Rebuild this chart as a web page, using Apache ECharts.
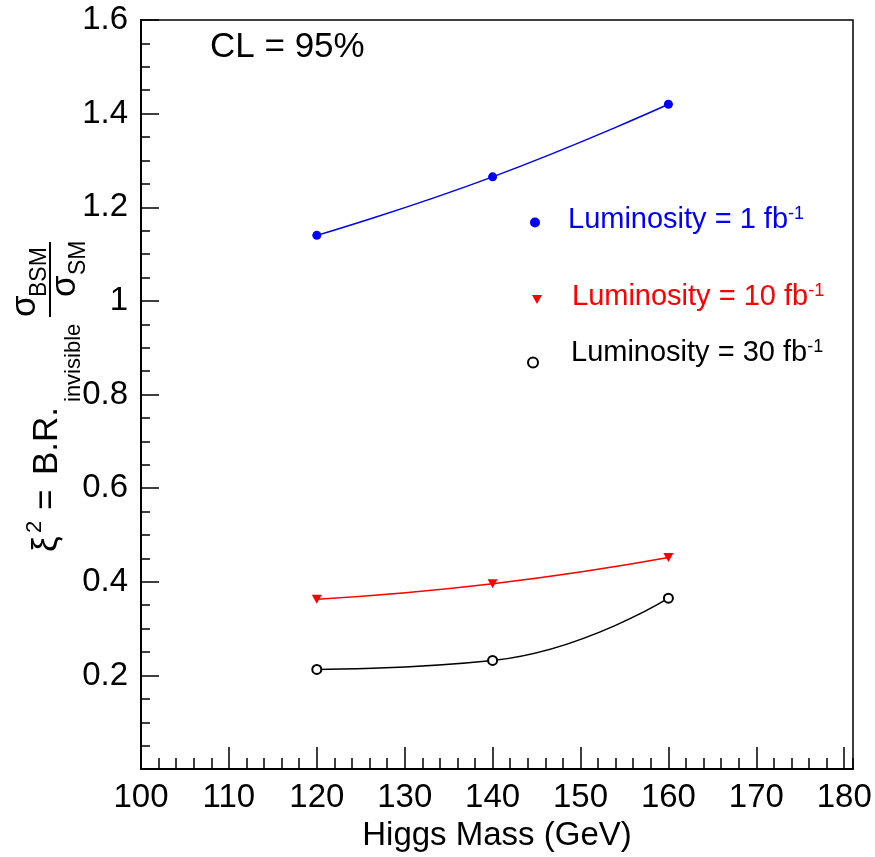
<!DOCTYPE html>
<html>
<head>
<meta charset="utf-8">
<title>Higgs invisible limit</title>
<script src="https://cdn.jsdelivr.net/npm/echarts@6.0.0/dist/echarts.min.js"></script>
<style>
  html, body { margin: 0; padding: 0; background: #fff; }
  #chart { width: 875px; height: 857px; }
</style>
</head>
<body>
<div id="chart"></div>
<script>
// values
const higgsMass = [120, 140, 160];
const lumi1 = [1.14, 1.265, 1.42];
const lumi10 = [0.363, 0.396, 0.452];
const lumi30 = [0.213, 0.232, 0.365];
const seriesNames = ['Luminosity = 1 fb-1', 'Luminosity = 10 fb-1', 'Luminosity = 30 fb-1'];

const FONT = '"Liberation Sans", Arial, Helvetica, sans-serif';

function pairs (xs, ys) {
  return xs.map((x, i) => [x, ys[i]]);
}

function legendText (name) {
  return name.replace('fb-1', 'fb{sup|-1}');
}

function legendStyle (color, pad) {
  return {
    color: color,
    fontSize: 29,
    fontFamily: FONT,
    padding: pad,
    rich: {
      sup: { fontSize: 18, color: color, fontFamily: FONT, verticalAlign: 'top' }
    }
  };
}

// y axis title, drawn rotated: xi^2 = B.R._invisible sigma_BSM / sigma_SM
function yTitle () {
  const t = (text, x, y, size) => ({
    type: 'text',
    x: x,
    y: y,
    style: {
      text: text,
      font: size + 'px ' + FONT,
      fill: '#000',
      textAlign: 'left',
      textVerticalAlign: 'middle'
    }
  });
  return {
    type: 'group',
    x: 0,
    y: 560,
    rotation: Math.PI / 2,
    children: [
      t('ξ', 8, 47.5, 35),
      t('2', 27, 35, 22),
      t('=', 50, 47.5, 35),
      t('B.R.', 85, 47.5, 35),
      t('invisible', 158, 74, 22),
      t('σ', 243, 25, 35),
      t('BSM', 263, 40, 23),
      {
        type: 'line',
        shape: { x1: 243, y1: 50, x2: 318, y2: 50 },
        style: { stroke: '#000', lineWidth: 2 }
      },
      t('σ', 263, 65, 35),
      t('SM', 285, 79, 23)
    ]
  };
}

const myChart = echarts.init(document.getElementById('chart'));

myChart.setOption({
  animation: false,
  backgroundColor: '#fff',
  title: {
    text: 'CL = 95%',
    left: 210,
    top: 30,
    padding: 0,
    textStyle: { fontSize: 35, fontWeight: 'normal', color: '#000', fontFamily: FONT }
  },
  legend: [
    {
      data: [seriesNames[0]],
      left: 530,
      top: 205,
      padding: 0,
      icon: 'circle',
      itemWidth: 10,
      itemHeight: 10,
      formatter: legendText,
      textStyle: legendStyle('#0000ff', [0, 0, 6, 23])
    },
    {
      data: [seriesNames[1]],
      left: 532,
      top: 282,
      padding: 0,
      icon: 'path://M0,0L10,0L5,9Z',
      itemWidth: 10,
      itemHeight: 9,
      formatter: legendText,
      textStyle: legendStyle('#ff0000', [0, 0, 6, 25])
    },
    {
      data: [seriesNames[2]],
      left: 527,
      top: 338,
      padding: 0,
      icon: 'emptyCircle',
      itemWidth: 10,
      itemHeight: 10,
      formatter: legendText,
      textStyle: legendStyle('#000000', [0, 0, 20, 28])
    }
  ],
  grid: {
    left: 141,
    right: 22,
    top: 20,
    bottom: 84,
    show: true,
    borderColor: '#000',
    borderWidth: 1.5
  },
  xAxis: [
    {
      type: 'value',
      min: 100,
      max: 181,
      interval: 10,
      position: 'bottom',
      name: 'Higgs Mass (GeV)',
      nameLocation: 'middle',
      nameGap: 46,
      nameTextStyle: { fontSize: 33, color: '#000', fontFamily: FONT },
      axisLine: { lineStyle: { color: '#000', width: 2 } },
      axisTick: { inside: true, length: 22, lineStyle: { color: '#000', width: 1.5 } },
      axisLabel: { showMaxLabel: false, fontSize: 33, color: '#000', fontFamily: FONT, margin: 12 },
      splitLine: { show: false }
    },
    {
      type: 'value',
      min: 100,
      max: 181,
      interval: 2,
      position: 'bottom',
      axisLine: { show: false },
      axisTick: { inside: true, length: 11, lineStyle: { color: '#000', width: 1.5 } },
      axisLabel: { show: false },
      splitLine: { show: false }
    }
  ],
  yAxis: {
    type: 'value',
    min: 0,
    max: 1.6,
    interval: 0.2,
    axisLine: { show: true, lineStyle: { color: '#000', width: 2 } },
    axisTick: { show: true, inside: true, length: 18, lineStyle: { color: '#000', width: 1.5 } },
    minorTick: { show: true, splitNumber: 4, length: 9, lineStyle: { color: '#000', width: 1.5 } },
    axisLabel: { showMinLabel: false, fontSize: 33, color: '#000', fontFamily: FONT, margin: 13 },
    splitLine: { show: false }
  },
  graphic: [yTitle()],
  series: [
    {
      name: seriesNames[0],
      type: 'line',
      data: pairs(higgsMass, lumi1),
      smooth: true,
      symbol: 'circle',
      symbolSize: 9,
      itemStyle: { color: '#0000ff' },
      lineStyle: { color: '#0000ff', width: 1.5 }
    },
    {
      name: seriesNames[1],
      type: 'line',
      data: pairs(higgsMass, lumi10),
      smooth: true,
      symbol: 'triangle',
      symbolRotate: 180,
      symbolSize: [10, 9],
      itemStyle: { color: '#ff0000' },
      lineStyle: { color: '#ff0000', width: 1.5 }
    },
    {
      name: seriesNames[2],
      type: 'line',
      data: pairs(higgsMass, lumi30),
      smooth: true,
      symbol: 'emptyCircle',
      symbolSize: 9,
      itemStyle: { color: '#000', borderWidth: 1 },
      lineStyle: { color: '#000', width: 1.5 }
    }
  ]
});
</script>
</body>
</html>
